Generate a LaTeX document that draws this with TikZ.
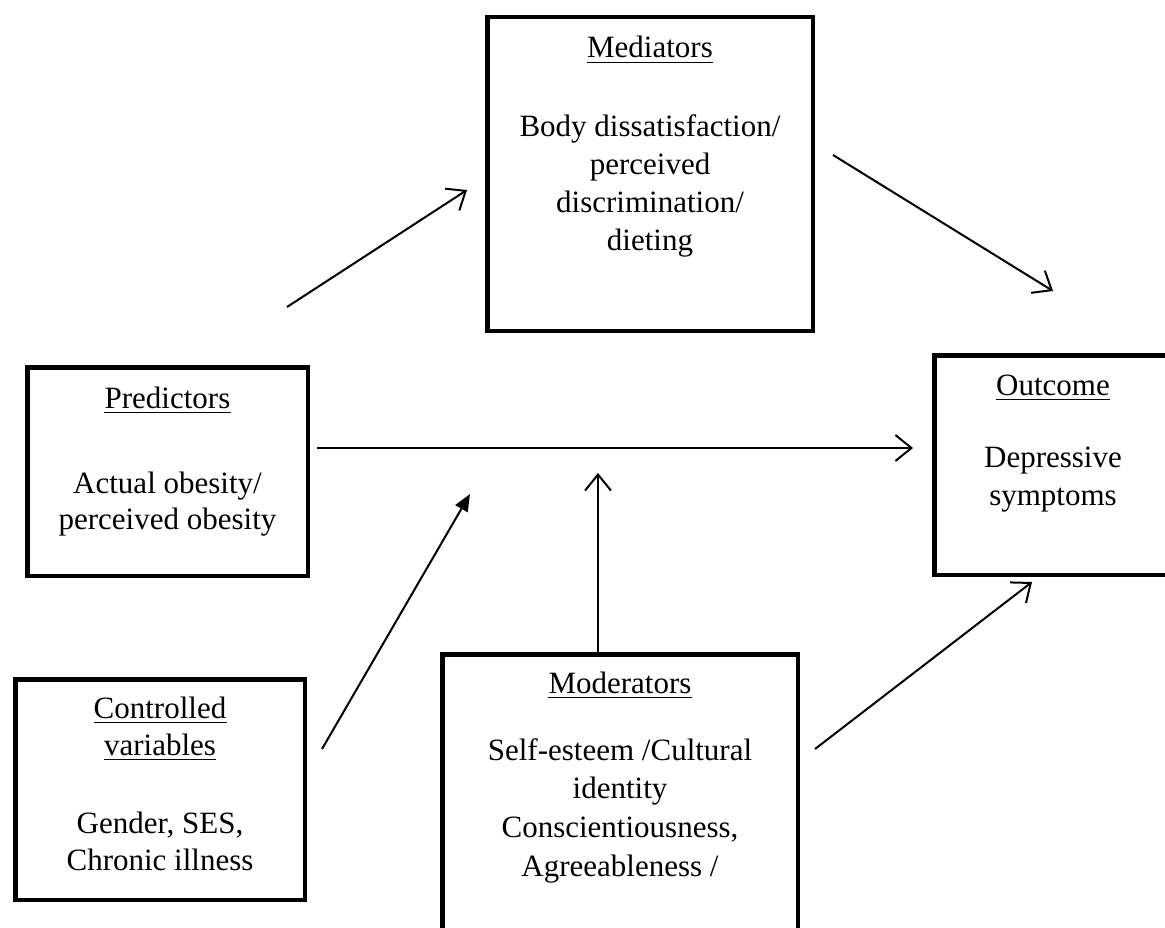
\documentclass[tikz,border=0pt]{standalone}
\usepackage{fontspec}
\setmainfont{Liberation Serif}
\usetikzlibrary{arrows.meta}
\begin{document}
\begin{tikzpicture}[x=1pt,y=-1pt,
  box/.style={draw, line width=4.5pt, rectangle, inner sep=0pt},
  ln/.style={anchor=base, inner sep=0pt, font=\fontsize{31}{38}\selectfont},
  uline/.style={line width=1.8pt},
  arr/.style={line width=2pt, -{Straight Barb[length=16pt,width=26pt,line width=2pt]}},
  farr/.style={line width=2pt, -{Triangle[length=17pt,width=14pt]}}]
\useasboundingbox (0,0) rectangle (1165,928);
\clip (0,0) rectangle (1165,928);
% boxes
\node[box, minimum width=325.5pt, minimum height=313.5pt] (med) at (650,174) {};
\node[box, minimum width=280.5pt, minimum height=208.5pt] (pred) at (167.5,471.5) {};
\node[box, minimum width=237.5pt, minimum height=219.5pt] (out) at (1053,465) {};
\node[box, minimum width=289.5pt, minimum height=220.5pt] (ctrl) at (160,789.5) {};
\node[box, minimum width=355.5pt, minimum height=283.5pt] (mod) at (620,796) {};
% mediators text
\node[ln] (medT) at (650,58) {Mediators};
\node[ln] (med1) at (650,137) {Body dissatisfaction/};
\node[ln] (med2) at (650,175) {perceived};
\node[ln] (med3) at (650,213) {discrimination/};
\node[ln] (med4) at (650,251) {dieting};
% predictors text
\node[ln] (predT) at (167.5,408) {Predictors};
\node[ln] (pred1) at (167.5,493) {Actual obesity/};
\node[ln] (pred2) at (167.5,529) {perceived obesity};
% outcome text
\node[ln] (outT) at (1053,395) {Outcome};
\node[ln] (out1) at (1053,467) {Depressive};
\node[ln] (out2) at (1053,505) {symptoms};
% controlled text
\node[ln] (ctrlT1) at (160,718) {Controlled};
\node[ln] (ctrlT2) at (160,755) {variables};
\node[ln] (ctrl1) at (160,833) {Gender, SES,};
\node[ln] (ctrl2) at (160,870) {Chronic illness};
% moderators text
\node[ln] (modT) at (620,693) {Moderators};
\node[ln] (mod1) at (620,760) {Self-esteem /Cultural};
\node[ln] (mod2) at (620,798) {identity};
\node[ln] (mod3) at (620,837) {Conscientiousness,};
\node[ln] (mod4) at (620,876) {Agreeableness /};
% underlines
\foreach \t in {medT,predT,outT,ctrlT1,ctrlT2,modT}
  \draw[uline] ([yshift=-4.5pt]\t.base west) -- ([yshift=-4.5pt]\t.base east);
% connector end points
\coordinate (a1s) at (287,307);
\coordinate (a1e) at (467,190);
\coordinate (a2s) at (833,155);
\coordinate (a2e) at (1053,291);
\coordinate (a3s) at (317,448);
\coordinate (a3e) at (913,448);
\coordinate (a4s) at (598,652);
\coordinate (a4e) at (598,473);
\coordinate (a5s) at (322,749);
\coordinate (a5e) at (470,494);
\coordinate (a6s) at (815,749);
\coordinate (a6e) at (1032,582);
\draw[arr] (a1s) -- (a1e);
\draw[arr] (a2s) -- (a2e);
\draw[arr] (a3s) -- (a3e);
\draw[arr] (a4s) -- (a4e);
\draw[farr] (a5s) -- (a5e);
\draw[arr] (a6s) -- (a6e);
\end{tikzpicture}
\end{document}
